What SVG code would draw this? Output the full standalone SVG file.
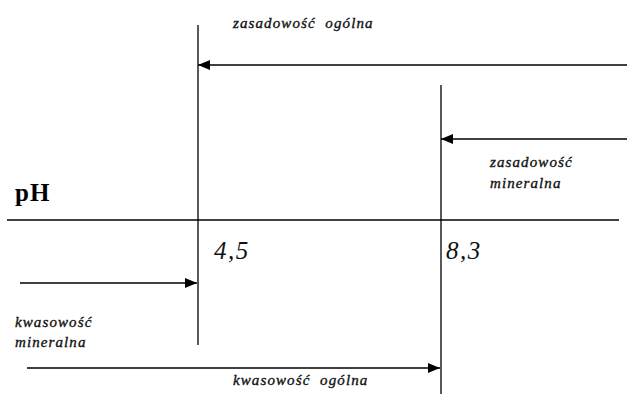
<svg xmlns="http://www.w3.org/2000/svg" width="627" height="394" viewBox="0 0 627 394">
<defs>
<style>
.ln{stroke:#000;stroke-width:1.3;fill:none}
.lb{font-family:"Liberation Serif",serif;font-style:italic;font-size:15px;letter-spacing:1.1px;fill:#111;stroke:#111;stroke-width:0.35}
.num{font-family:"Liberation Serif",serif;font-style:italic;font-size:25px;letter-spacing:1.5px;fill:#111}
.ph{font-family:"Liberation Serif",serif;font-weight:bold;font-size:25px;letter-spacing:1px;fill:#000}
</style>
<marker id="ah" viewBox="0 0 12 10" refX="12" refY="5" markerWidth="12" markerHeight="10" markerUnits="userSpaceOnUse" orient="auto">
<path d="M0,0 L12,5 L0,10 Z" fill="#000"/>
</marker>
</defs>
<rect width="627" height="394" fill="#fff"/>
<g id="axes">
<line class="ln" x1="7" y1="220" x2="619" y2="220"/>
<line class="ln" x1="198" y1="25" x2="198" y2="345"/>
<line class="ln" x1="441" y1="85" x2="441" y2="394"/>
</g>
<g id="connectors">
<line class="ln" x1="627" y1="65" x2="198" y2="65" marker-end="url(#ah)"/>
<line class="ln" x1="627" y1="139" x2="441" y2="139" marker-end="url(#ah)"/>
<line class="ln" x1="20" y1="283" x2="197" y2="283" marker-end="url(#ah)"/>
<line class="ln" x1="27" y1="368" x2="440" y2="368" marker-end="url(#ah)"/>
</g>
<g id="ph"><text class="ph" x="15" y="201">pH</text></g>
<g id="v45"><text class="num" x="214" y="259">4,5</text></g>
<g id="v83"><text class="num" x="446" y="259">8,3</text></g>
<g id="zas-ogolna"><text class="lb" x="233" y="28" xml:space="preserve">zasadowość  ogólna</text></g>
<g id="zas-mineralna"><text class="lb" x="490" y="167">zasadowość</text><text class="lb" x="490" y="188">mineralna</text></g>
<g id="kw-mineralna"><text class="lb" x="15" y="327">kwasowość</text><text class="lb" x="15" y="347">mineralna</text></g>
<g id="kw-ogolna"><text class="lb" x="233" y="385" xml:space="preserve">kwasowość  ogólna</text></g>
</svg>
